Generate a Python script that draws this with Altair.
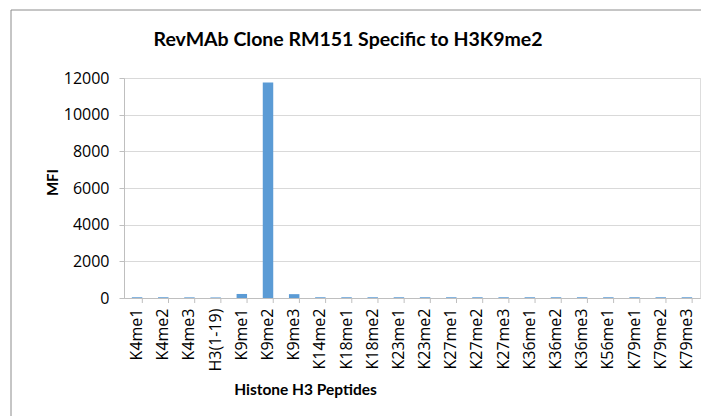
import altair as alt
import pandas as pd

peptides = ["K4me1", "K4me2", "K4me3", "H3(1-19)", "K9me1", "K9me2", "K9me3",
            "K14me2", "K18me1", "K18me2", "K23me1", "K23me2", "K27me1", "K27me2",
            "K27me3", "K36me1", "K36me2", "K36me3", "K56me1", "K79me1", "K79me2",
            "K79me3"]
mfi = [40, 35, 35, 30, 220, 11750, 210, 40, 40, 40, 40, 40, 40, 40,
       40, 40, 40, 40, 40, 40, 40, 40]
y_ticks = [0, 2000, 4000, 6000, 8000, 10000, 12000]
chart_title = "RevMAb Clone RM151 Specific to H3K9me2"

df = pd.DataFrame({"peptide": peptides, "mfi": mfi})

TITLE_FONT = "Lato"
LABEL_FONT = "Open Sans"

xscale = alt.Scale(domain=peptides, paddingInner=0.6, paddingOuter=0.3)

bars = alt.Chart(df).mark_bar(color="#5B9BD5").encode(
    x=alt.X("peptide:N", scale=xscale, sort=peptides,
            axis=alt.Axis(title="Histone H3 Peptides", labelAngle=-90,
                          labelAlign="right", labelBaseline="middle",
                          labelPadding=10, ticks=False, domain=True,
                          domainColor="#BFBFBF", labelColor="#000000",
                          labelFont=LABEL_FONT, labelFontSize=16,
                          titleFont=TITLE_FONT, titleFontSize=15.5,
                          titleFontWeight="bold", titleColor="#000000",
                          titleX=181, titleY=91, titleBaseline="middle",
                          grid=False)),
    y=alt.Y("mfi:Q", scale=alt.Scale(domain=[0, 12000], nice=False),
            axis=alt.Axis(title="MFI", values=y_ticks, format="d",
                          grid=True, gridColor="#D9D9D9",
                          domainColor="#BFBFBF", tickColor="#BFBFBF",
                          tickSize=5, labelPadding=10, labelColor="#000000",
                          labelFont=LABEL_FONT, labelFontSize=16,
                          titleFont=TITLE_FONT, titleFontSize=15,
                          titleFontWeight="bold", titleColor="#000000",
                          titleX=-72, titleY=104, titleAngle=-90,
                          titleBaseline="middle", titleAlign="center")),
)

xticks = alt.Chart(df).mark_rule(color="#BFBFBF").encode(
    x=alt.X("peptide:N", scale=xscale, sort=peptides, bandPosition=1),
    y=alt.value(220),
    y2=alt.value(225),
)

one = pd.DataFrame({"t": [chart_title]})

title_mark = alt.Chart(one).mark_text(
    font=TITLE_FONT, fontSize=19.5, fontWeight="bold", color="#000000",
    align="center", baseline="middle"
).encode(x=alt.value(224), y=alt.value(-38), text="t:N")

border = alt.Chart(one).mark_rect(
    filled=False, stroke="#8C8C8C", strokeWidth=1
).encode(
    x=alt.value(-113), x2=alt.value(700), y=alt.value(-68), y2=alt.value(400)
)

chart = alt.layer(bars, xticks, title_mark, border).properties(
    width=576,
    height=220,
    autosize=alt.AutoSizeParams(type="none"),
    padding={"left": 116, "top": 70, "right": 1, "bottom": 118},
).configure_view(stroke=None).configure(background="white")

chart.save("out.html", embed_options={"renderer": "svg", "actions": False})
